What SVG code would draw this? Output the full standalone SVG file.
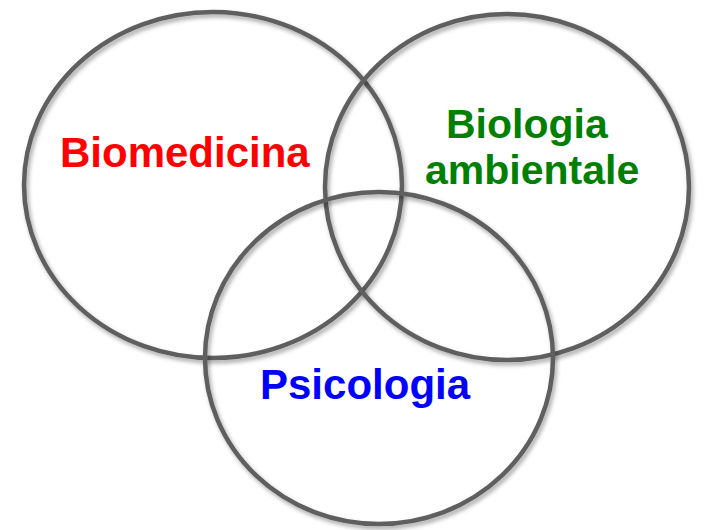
<svg xmlns="http://www.w3.org/2000/svg" width="708" height="530" viewBox="0 0 708 530">
  <defs>
    <filter id="sh" x="-10%" y="-10%" width="120%" height="120%">
      <feDropShadow dx="2" dy="3" stdDeviation="2" flood-color="#000" flood-opacity="0.35"/>
    </filter>
    <style>
      .ring { fill: none; stroke: #5f5f5f; stroke-width: 4.5; filter: url(#sh); }
      .lbl { font-family: "Liberation Sans", Arial, sans-serif; font-weight: bold; font-size: 42px; }
      .green { fill: #008000; font-size: 41px; }
    </style>
  </defs>
  <rect width="708" height="530" fill="#fff"/>
  <g id="connectors"></g>
  <g id="biomedicina">
    <ellipse class="ring" cx="213" cy="185" rx="189" ry="173"/>
    <text class="lbl" x="60" y="167" fill="#ff0000">Biomedicina</text>
  </g>
  <g id="biologia-ambientale">
    <ellipse class="ring" cx="507" cy="187" rx="182" ry="173"/>
    <text class="lbl green" x="446" y="138">Biologia</text>
    <text class="lbl green" x="425" y="184">ambientale</text>
  </g>
  <g id="psicologia">
    <ellipse class="ring" cx="379" cy="358" rx="174" ry="166"/>
    <text class="lbl" x="260" y="399" fill="#0000ff">Psicologia</text>
  </g>
</svg>
